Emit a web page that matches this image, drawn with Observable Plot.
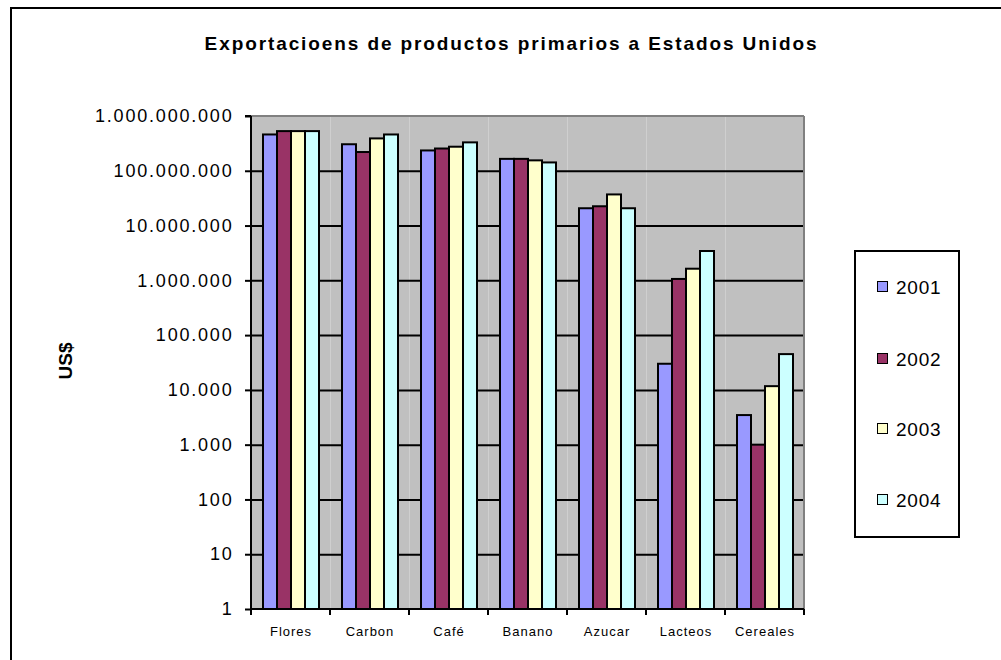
<!DOCTYPE html>
<html>
<head>
<meta charset="utf-8">
<script src="https://cdn.jsdelivr.net/npm/d3@7"></script>
<script src="https://cdn.jsdelivr.net/npm/@observablehq/plot@0.6"></script>
<style>
  html, body { margin: 0; padding: 0; background: #fff; }
  #wrap { position: relative; width: 1001px; height: 660px; overflow: hidden; font-family: "Liberation Sans", Arial, sans-serif; }
  #frame { position: absolute; left: 10px; top: 7px; width: 1100px; height: 800px; border: 2px solid #000; box-sizing: border-box; }
  #title { position: absolute; left: 0; width: 1023px; top: 33px; text-align: center; font-weight: bold; font-size: 19px; letter-spacing: 1.9px; color: #000; }
  #ytitle { position: absolute; left: 66px; top: 361px; transform: translate(-50%, -50%) rotate(-90deg); font-weight: bold; font-size: 19px; color: #000; white-space: nowrap; }
  #legend { position: absolute; left: 854px; top: 250px; width: 106px; height: 288px; border: 2px solid #000; box-sizing: border-box; background: #fff; }
  .item { position: absolute; left: 21px; height: 24px; line-height: 24px; font-size: 19px; letter-spacing: 0.8px; color: #000; }
  .sw { display: inline-block; width: 11px; height: 11px; border: 1.5px solid #000; box-sizing: border-box; vertical-align: middle; margin-right: 8px; position: relative; top: -2px; }
  #chart { position: absolute; left: 0; top: 0; }
  #chart g[aria-label="y-axis tick label"] text { letter-spacing: 1.8px; }
  #chart g[aria-label="fx-axis tick label"] text { letter-spacing: 1px; }
</style>
</head>
<body>
<div id="wrap">
  <div id="frame"></div>
  <div id="chart"></div>
  <div id="title">Exportacioens de productos primarios a Estados Unidos</div>
  <div id="ytitle">US$</div>
  <div id="legend"></div>
</div>
<script>
const categories = ["Flores", "Carbon", "Café", "Banano", "Azucar", "Lacteos", "Cereales"];
const years = ["2001", "2002", "2003", "2004"];
const colors = ["#9999FF", "#993366", "#FFFFCC", "#CCFFFF"];
const v2001 = [460000000, 305000000, 235000000, 165000000, 20700000, 30000, 3470];
const v2002 = [530000000, 220000000, 255000000, 165000000, 22500000, 1060000, 1000];
const v2003 = [530000000, 390000000, 275000000, 155000000, 37000000, 1630000, 11700];
const v2004 = [530000000, 460000000, 330000000, 142000000, 20700000, 3430000, 45000];
const yTicks = [1, 10, 100, 1000, 10000, 100000, 1000000, 10000000, 100000000, 1000000000];

(function () {
  const series = [v2001, v2002, v2003, v2004];
  const data = [];
  categories.forEach((c, i) => years.forEach((yr, j) => data.push({cat: c, year: yr, value: series[j][i]})));
  const baseline = yTicks[0];
  const fmt = d3.formatLocale({thousands: ".", grouping: [3], decimal: ",", currency: ["", ""]}).format(",d");

  const plot = Plot.plot({
    width: 1001,
    height: 660,
    marginLeft: 248,
    marginRight: 194,
    marginTop: 116,
    marginBottom: 51,
    style: {fontFamily: "'Liberation Sans', Arial, sans-serif", background: "transparent", color: "#000"},
    fx: {domain: categories, padding: 0, label: null},
    x: {domain: years, paddingInner: 0, paddingOuter: 0.8, align: 0.5, axis: null},
    y: {type: "log", domain: [yTicks[0], yTicks[yTicks.length - 1]], label: null},
    color: {domain: years, range: colors},
    marks: [
      Plot.frame({fill: "#C0C0C0", stroke: null}),
      Plot.ruleY(yTicks.slice(1, -1), {stroke: "#000", strokeWidth: 2}),
      Plot.barY(data, {fx: "cat", x: "year", y1: () => baseline, y2: "value", fill: "year", stroke: "#000", strokeWidth: 2}),
      Plot.axisY({ticks: yTicks, tickFormat: fmt, tickSize: 6, tickPadding: 12, fontSize: 18, stroke: "#000", strokeWidth: 2, label: null}),
      Plot.axisFx({anchor: "bottom", tickSize: 0, tickPadding: 17, fontSize: 13, label: null})
    ]
  });
  document.getElementById("chart").appendChild(plot);

  const fx = plot.scale("fx");
  const ys = plot.scale("y");
  const svg = d3.select(plot);
  const xLeft = fx.apply(categories[0]);
  const xRight = fx.apply(categories[categories.length - 1]) + fx.bandwidth;
  const yTop = ys.apply(yTicks[yTicks.length - 1]);
  const yBottom = ys.apply(yTicks[0]);
  const g = svg.append("g");
  const line = (x1, y1, x2, y2, c) => g.append("line").attr("x1", x1).attr("y1", y1).attr("x2", x2).attr("y2", y2).attr("stroke", c).attr("stroke-width", 2);
  line(xLeft, yTop, xRight, yTop, "#808080");
  line(xRight, yTop, xRight, yBottom, "#808080");
  line(xLeft, yTop, xLeft, yBottom, "#000");
  line(xLeft, yBottom, xRight, yBottom, "#000");
  categories.map(c => fx.apply(c)).concat([xRight]).forEach(b => line(b, yBottom, b, yBottom + 6, "#000"));
  line(xLeft - 6, yTop, xLeft, yTop, "#000");

  const legend = document.getElementById("legend");
  const itemTops = [24, 96, 166, 237];
  years.forEach((yr, i) => {
    const it = document.createElement("div");
    it.className = "item";
    it.style.top = itemTops[i] + "px";
    it.innerHTML = `<span class="sw" style="background:${colors[i]}"></span>${yr}`;
    legend.appendChild(it);
  });
})();
</script>
</body>
</html>
